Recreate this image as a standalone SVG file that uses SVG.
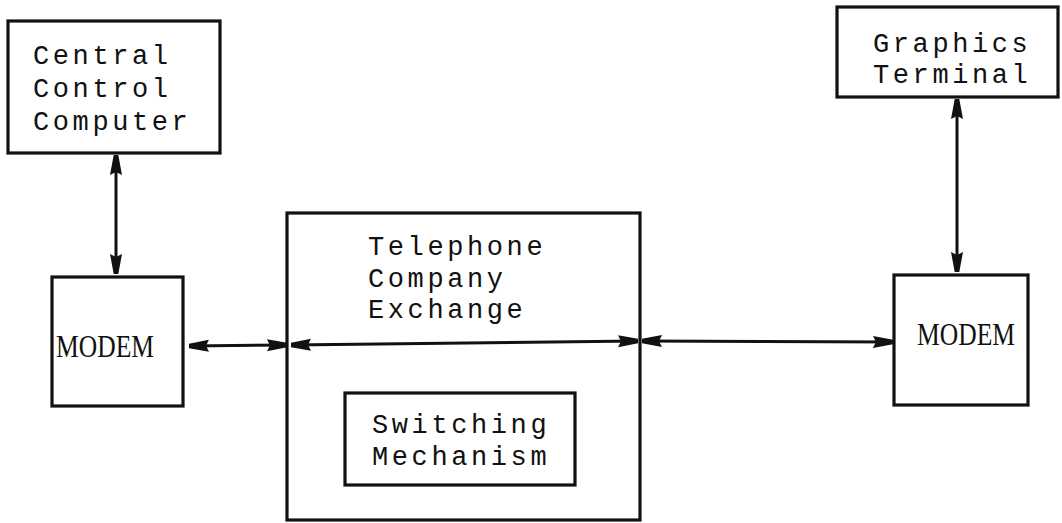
<svg xmlns="http://www.w3.org/2000/svg" width="1062" height="523" viewBox="0 0 1062 523">
  <style>
    .box { fill: #fff; stroke: #111; stroke-width: 3.2; }
    .mono { font-family: "Liberation Mono", "Courier New", monospace; font-size: 27px; letter-spacing: 3.6px; fill: #111; }
    .serif { font-family: "Liberation Serif", "Times New Roman", serif; font-size: 31px; fill: #111; }
    .link { stroke: #111; stroke-width: 3; fill: none; marker-start: url(#head); marker-end: url(#head); }
  </style>
  <defs>
    <!-- stubby typewriter-style arrowhead, tip on the line end -->
    <marker id="head" viewBox="0 0 20 13" refX="20" refY="6.5" markerWidth="20" markerHeight="13" markerUnits="userSpaceOnUse" orient="auto-start-reverse">
      <path d="M0,0.5 L20,4.2 L20,8.8 L0,12.5 L3,6.5 Z" fill="#111"/>
    </marker>
  </defs>
  <rect width="1062" height="523" fill="#fff"/>

  <g id="central-control-computer">
    <rect class="box" x="8" y="21" width="212" height="132"/>
    <text class="mono" x="33" y="64">Central</text>
    <text class="mono" x="33" y="97">Control</text>
    <text class="mono" x="33" y="130">Computer</text>
  </g>

  <g id="graphics-terminal">
    <rect class="box" x="837" y="7" width="221" height="90"/>
    <text class="mono" x="873" y="52">Graphics</text>
    <text class="mono" x="873" y="83">Terminal</text>
  </g>

  <g id="modem-left">
    <rect class="box" x="52" y="277" width="131" height="129"/>
    <text class="serif" x="56" y="357" textLength="98" lengthAdjust="spacingAndGlyphs">MODEM</text>
  </g>

  <g id="modem-right">
    <rect class="box" x="894" y="275" width="134" height="130"/>
    <text class="serif" x="917" y="345" textLength="98" lengthAdjust="spacingAndGlyphs">MODEM</text>
  </g>

  <g id="telephone-exchange">
    <rect class="box" x="287" y="213" width="353" height="307"/>
    <text class="mono" x="368" y="255">Telephone</text>
    <text class="mono" x="368" y="287">Company</text>
    <text class="mono" x="368" y="318">Exchange</text>
  </g>

  <g id="switching-mechanism">
    <rect class="box" x="345" y="393" width="230" height="92"/>
    <text class="mono" x="372" y="433">Switching</text>
    <text class="mono" x="372" y="465">Mechanism</text>
  </g>

  <g id="connectors">
    <line class="link" x1="116" y1="155" x2="116" y2="274"/>
    <line class="link" x1="957" y1="99" x2="957" y2="272"/>
    <line class="link" x1="189" y1="346" x2="287" y2="345"/>
    <line class="link" x1="291" y1="345" x2="638" y2="341"/>
    <line class="link" x1="642" y1="341" x2="893" y2="342"/>
  </g>
</svg>
